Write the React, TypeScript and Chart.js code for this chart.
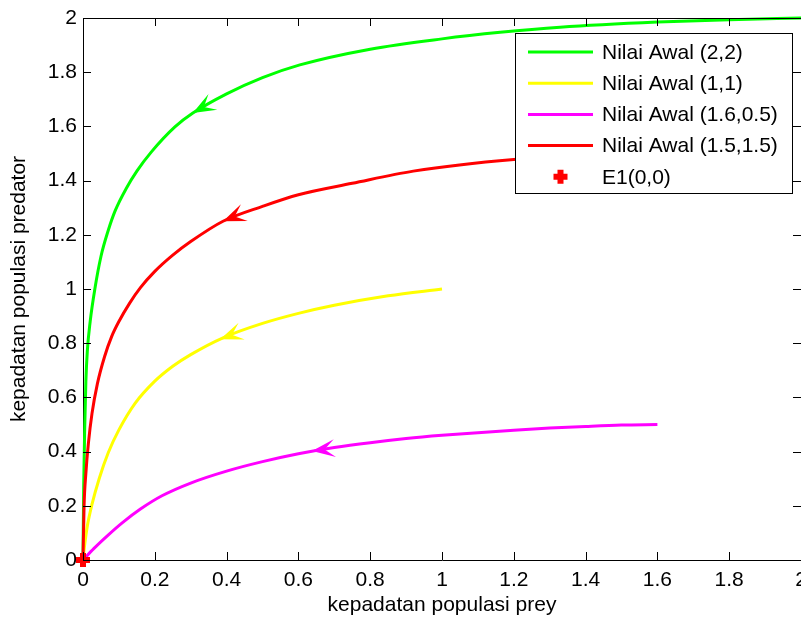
import { useEffect, useRef } from 'react';
import { Chart, registerables } from 'chart.js';

Chart.register(...registerables);

// ---- data ----
const xTickValues = [0, 0.2, 0.4, 0.6, 0.8, 1, 1.2, 1.4, 1.6, 1.8, 2];
const xTickLabels = ['0', '0.2', '0.4', '0.6', '0.8', '1', '1.2', '1.4', '1.6', '1.8', '2'];
const yTickValues = [0, 0.2, 0.4, 0.6, 0.8, 1, 1.2, 1.4, 1.6, 1.8, 2];
const yTickLabels = ['0', '0.2', '0.4', '0.6', '0.8', '1', '1.2', '1.4', '1.6', '1.8', '2'];

const xTitle = 'kepadatan populasi prey';
const yTitle = 'kepadatan populasi predator';

const seriesLabels = ['Nilai Awal (2,2)', 'Nilai Awal (1,1)', 'Nilai Awal (1.6,0.5)', 'Nilai Awal (1.5,1.5)'];
const seriesColors = ['#00ff00', '#ffff00', '#ff00ff', '#ff0000'];

const greenX = [0, 0.002, 0.005, 0.008, 0.012, 0.02, 0.033, 0.05, 0.07, 0.09, 0.12, 0.15, 0.19, 0.256, 0.306, 0.4, 0.5, 0.604, 0.8, 1.0, 1.162, 1.329, 1.6, 1.8, 2];
const greenY = [0, 0.28, 0.5, 0.66, 0.77, 0.88, 1.0, 1.12, 1.215, 1.29, 1.37, 1.435, 1.505, 1.598, 1.649, 1.72, 1.78, 1.827, 1.885, 1.923, 1.947, 1.966, 1.985, 1.994, 2];

const yellowX = [0, 0.005, 0.012, 0.025, 0.045, 0.07, 0.1, 0.145, 0.2, 0.25, 0.3, 0.39, 0.5, 0.6, 0.7, 0.85, 1.0];
const yellowY = [0, 0.06, 0.125, 0.205, 0.3, 0.395, 0.48, 0.578, 0.66, 0.715, 0.758, 0.82, 0.873, 0.91, 0.94, 0.975, 1.0];

const magentaX = [0, 0.03, 0.07, 0.11, 0.16, 0.22, 0.3, 0.4, 0.5, 0.6, 0.7, 0.8, 0.9, 1.0, 1.1, 1.2, 1.3, 1.4, 1.5, 1.6];
const magentaY = [0, 0.042, 0.092, 0.138, 0.188, 0.237, 0.284, 0.328, 0.363, 0.392, 0.415, 0.433, 0.448, 0.46, 0.47, 0.479, 0.487, 0.493, 0.498, 0.5];

const redX = [0, 0.003, 0.008, 0.015, 0.025, 0.04, 0.06, 0.08, 0.1, 0.13, 0.16, 0.2, 0.25, 0.3, 0.39, 0.5, 0.6, 0.75, 0.92, 1.2, 1.5];
const redY = [0, 0.2, 0.32, 0.43, 0.54, 0.65, 0.75, 0.825, 0.88, 0.948, 1.005, 1.065, 1.125, 1.175, 1.25, 1.305, 1.348, 1.39, 1.435, 1.478, 1.5];

const equilibriumLabel = 'E1(0,0)';
const equilibriumX = [0];
const equilibriumY = [0];

// arrow heads (tip and a point just behind it, in data units), one per series
const arrowTipX = [0.306, 0.382, 0.638, 0.39];
const arrowTipY = [1.649, 0.815, 0.402, 1.25];
const arrowTailX = [0.365, 0.429, 0.708, 0.451];
const arrowTailY = [1.693, 0.838, 0.414, 1.283];

const FONT = "'Liberation Sans', Arial, Helvetica, sans-serif";
const FONT_SIZE = 21;

const zip = (xs: number[], ys: number[]) => xs.map((x, i) => ({ x, y: ys[i] }));

const framePlugin = {
  id: 'matlabFrame',
  afterDatasetsDraw(chart: any) {
    const { ctx, chartArea, scales } = chart;
    const { left, right, top, bottom } = chartArea;
    const xs = scales.x;
    const ys = scales.y;
    ctx.save();
    ctx.strokeStyle = '#000';
    ctx.lineWidth = 1;
    ctx.beginPath();
    ctx.moveTo(left, top + 0.5);
    ctx.lineTo(right, top + 0.5);
    const tl = 8;
    xs.ticks.forEach((t: any) => {
      const px = Math.round(xs.getPixelForValue(t.value)) + 0.5;
      ctx.moveTo(px, bottom);
      ctx.lineTo(px, bottom - tl);
      ctx.moveTo(px, top);
      ctx.lineTo(px, top + tl);
    });
    ys.ticks.forEach((t: any) => {
      const py = Math.round(ys.getPixelForValue(t.value)) + 0.5;
      ctx.moveTo(left, py);
      ctx.lineTo(left + tl, py);
      ctx.moveTo(right, py);
      ctx.lineTo(right - tl, py);
    });
    ctx.stroke();

    // arrow heads
    for (let i = 0; i < arrowTipX.length; i++) {
      const tx = xs.getPixelForValue(arrowTipX[i]);
      const ty = ys.getPixelForValue(arrowTipY[i]);
      const bx = xs.getPixelForValue(arrowTailX[i]);
      const by = ys.getPixelForValue(arrowTailY[i]);
      let dx = tx - bx;
      let dy = ty - by;
      const len = Math.hypot(dx, dy) || 1;
      dx /= len;
      dy /= len;
      const nx = -dy;
      const ny = dx;
      const L = 23;
      const W = 9;
      ctx.fillStyle = chart.data.datasets[i].borderColor;
      ctx.beginPath();
      ctx.moveTo(tx, ty);
      ctx.lineTo(tx - L * dx + W * nx, ty - L * dy + W * ny);
      ctx.lineTo(tx - 0.55 * L * dx, ty - 0.55 * L * dy);
      ctx.lineTo(tx - L * dx - W * nx, ty - L * dy - W * ny);
      ctx.closePath();
      ctx.fill();
    }
    ctx.restore();
  },
};

const legendPlugin = {
  id: 'matlabLegend',
  afterDraw(chart: any) {
    const { ctx, chartArea } = chart;
    const boxLeft = chartArea.right - 286;
    const boxTop = chartArea.top + 15;
    const w = 277;
    const h = 160;
    ctx.save();
    ctx.fillStyle = '#fff';
    ctx.fillRect(boxLeft, boxTop, w, h);
    ctx.strokeStyle = '#000';
    ctx.lineWidth = 1;
    ctx.strokeRect(boxLeft + 0.5, boxTop + 0.5, w, h);
    ctx.font = `${FONT_SIZE}px ${FONT}`;
    ctx.textBaseline = 'middle';
    ctx.textAlign = 'left';
    chart.data.datasets.forEach((ds: any, i: number) => {
      const cy = boxTop + 19 + i * 31.2;
      if (ds.showLine) {
        ctx.strokeStyle = ds.borderColor;
        ctx.lineWidth = 3;
        ctx.beginPath();
        ctx.moveTo(boxLeft + 13, cy);
        ctx.lineTo(boxLeft + 78, cy);
        ctx.stroke();
      } else {
        const cx = boxLeft + 45.5;
        ctx.strokeStyle = ds.pointBorderColor;
        ctx.lineWidth = 6;
        ctx.beginPath();
        ctx.moveTo(cx - 7, cy);
        ctx.lineTo(cx + 7, cy);
        ctx.moveTo(cx, cy - 7);
        ctx.lineTo(cx, cy + 7);
        ctx.stroke();
      }
      ctx.fillStyle = '#000';
      ctx.fillText(ds.label, boxLeft + 87, cy + 1);
    });
    ctx.restore();
  },
};

export default function App() {
  const canvasRef = useRef<HTMLCanvasElement | null>(null);

  useEffect(() => {
    if (!canvasRef.current) return;
    const font = { family: FONT, size: FONT_SIZE };
    const lineSeries = [
      zip(greenX, greenY),
      zip(yellowX, yellowY),
      zip(magentaX, magentaY),
      zip(redX, redY),
    ];
    const datasets: any[] = lineSeries.map((data, i) => ({
      label: seriesLabels[i],
      data,
      showLine: true,
      borderColor: seriesColors[i],
      backgroundColor: seriesColors[i],
      borderWidth: 3,
      pointRadius: 0,
      pointHoverRadius: 0,
      fill: false,
      cubicInterpolationMode: 'monotone',
      order: 10 - i,
      clip: 4,
    }));
    datasets.push({
      label: equilibriumLabel,
      data: zip(equilibriumX, equilibriumY),
      showLine: false,
      pointStyle: 'cross',
      pointRadius: 7,
      pointHoverRadius: 7,
      pointBorderWidth: 6,
      pointBorderColor: '#ff0000',
      pointBackgroundColor: '#ff0000',
      borderColor: '#ff0000',
      order: 1,
      clip: false,
    });

    const chart = new Chart(canvasRef.current, {
      type: 'scatter',
      data: { datasets },
      options: {
        responsive: false,
        maintainAspectRatio: false,
        devicePixelRatio: 1,
        animation: false,
        events: [],
        color: '#000',
        layout: { autoPadding: false, padding: { top: 18, right: 0, left: 0, bottom: 0 } },
        plugins: {
          legend: { display: false },
          tooltip: { enabled: false },
        },
        scales: {
          x: {
            type: 'linear',
            min: 0,
            max: 2,
            afterBuildTicks: (s: any) => {
              s.ticks = xTickValues.map((v) => ({ value: v }));
            },
            ticks: {
              callback: (_v: any, i: number) => xTickLabels[i],
              padding: 8,
              maxRotation: 0,
              autoSkip: false,
              color: '#000',
              font,
            },
            grid: { display: true, drawOnChartArea: false, drawTicks: false },
            border: { display: true, color: '#000', width: 1 },
            title: {
              display: true,
              text: xTitle,
              color: '#000',
              font,
              padding: { top: 0, bottom: 3 },
            },
            afterFit: (s: any) => {
              s.height = 61;
              s.paddingLeft = 0;
              s.paddingRight = 0;
            },
          },
          y: {
            type: 'linear',
            min: 0,
            max: 2,
            afterBuildTicks: (s: any) => {
              s.ticks = yTickValues.map((v) => ({ value: v }));
            },
            ticks: {
              callback: (_v: any, i: number) => yTickLabels[i],
              padding: 6,
              autoSkip: false,
              color: '#000',
              font,
            },
            grid: { display: true, drawOnChartArea: false, drawTicks: false },
            border: { display: true, color: '#000', width: 1 },
            title: {
              display: true,
              text: yTitle,
              color: '#000',
              font,
              padding: { top: 7, bottom: 0 },
            },
            afterFit: (s: any) => {
              s.width = 83;
              s.paddingTop = 0;
              s.paddingBottom = 0;
            },
          },
        },
      } as any,
      plugins: [framePlugin, legendPlugin],
    });
    return () => chart.destroy();
  }, []);

  return (
    <div style={{ position: 'fixed', left: 0, top: 0, width: 801, height: 621, background: '#fff' }}>
      <canvas ref={canvasRef} width={801} height={621} style={{ display: 'block', width: 801, height: 621 }} />
    </div>
  );
}
